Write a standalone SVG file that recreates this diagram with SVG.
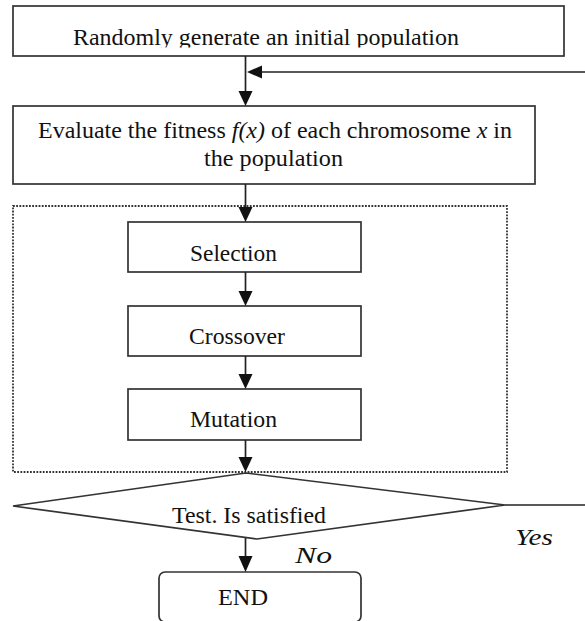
<svg xmlns="http://www.w3.org/2000/svg" width="585" height="621" viewBox="0 0 585 621">
<style>
.box{fill:#fff;stroke:#333;stroke-width:1.7}
text{font-family:'Liberation Serif','Times New Roman','DejaVu Serif',serif;font-size:24px;fill:#111}
.i{font-style:italic}
.ln{stroke:#222;stroke-width:1.7;fill:none}
.ah{fill:#111}
.dot{fill:none;stroke:#333;stroke-width:1.8;stroke-dasharray:1.8 1.4}
</style>
<defs>
<clipPath id="c1"><rect x="0" y="0" width="585" height="47.5"/></clipPath>
</defs>
<rect width="585" height="621" fill="#fff"/>
<g id="loop">
<rect class="dot" x="13" y="206" width="494" height="266"/>
</g>
<g id="init">
<rect class="box" x="13" y="6" width="551" height="50"/>
<text x="73" y="44.5" textLength="386" lengthAdjust="spacingAndGlyphs" clip-path="url(#c1)">Randomly generate an initial population</text>
</g>
<g id="evaluate">
<rect class="box" x="13" y="106" width="522" height="78"/>
<text x="38" y="138" textLength="474" lengthAdjust="spacingAndGlyphs">Evaluate the fitness <tspan class="i">f(x)</tspan> of each chromosome <tspan class="i">x</tspan> in</text>
<text x="204" y="166" textLength="139" lengthAdjust="spacingAndGlyphs">the population</text>
</g>
<g id="selection">
<rect class="box" x="128" y="222" width="233" height="50"/>
<text x="190" y="261" textLength="87" lengthAdjust="spacingAndGlyphs">Selection</text>
</g>
<g id="crossover">
<rect class="box" x="128" y="306" width="233" height="50"/>
<text x="189" y="344" textLength="96" lengthAdjust="spacingAndGlyphs">Crossover</text>
</g>
<g id="mutation">
<rect class="box" x="128" y="389" width="233" height="51"/>
<text x="190" y="427" textLength="87" lengthAdjust="spacingAndGlyphs">Mutation</text>
</g>
<g id="test">
<polygon class="box" points="13,506 246,473 505,505 257,539"/>
<text x="172" y="523" textLength="154" lengthAdjust="spacingAndGlyphs">Test. Is satisfied</text>
</g>
<g id="end">
<rect class="box" x="159" y="572" width="202" height="50" rx="6"/>
<text x="218" y="605" textLength="50" lengthAdjust="spacingAndGlyphs">END</text>
</g>
<g id="connectors">
<line class="ln" x1="245.5" y1="56" x2="245.5" y2="92"/>
<polygon class="ah" points="238.5,91 252.5,91 245.5,106"/>
<line class="ln" x1="261" y1="72" x2="585" y2="72"/>
<polygon class="ah" points="262,65.5 262,78.5 247,72"/>
<line class="ln" x1="245.5" y1="184" x2="245.5" y2="208"/>
<polygon class="ah" points="238.5,207 252.5,207 245.5,222"/>
<line class="ln" x1="245.5" y1="272" x2="245.5" y2="292"/>
<polygon class="ah" points="238.5,291 252.5,291 245.5,306"/>
<line class="ln" x1="245.5" y1="356" x2="245.5" y2="375"/>
<polygon class="ah" points="238.5,374 252.5,374 245.5,389"/>
<line class="ln" x1="245.5" y1="440" x2="245.5" y2="458"/>
<polygon class="ah" points="238.5,457 252.5,457 245.5,472"/>
<line class="ln" x1="245.5" y1="538" x2="245.5" y2="557"/>
<polygon class="ah" points="238.5,556 252.5,556 245.5,572"/>
<line class="ln" x1="505" y1="505" x2="585" y2="505"/>
<text class="i" x="295" y="563" textLength="37" lengthAdjust="spacingAndGlyphs">No</text>
<text class="i" x="515" y="545" textLength="38" lengthAdjust="spacingAndGlyphs">Yes</text>
</g>
</svg>
